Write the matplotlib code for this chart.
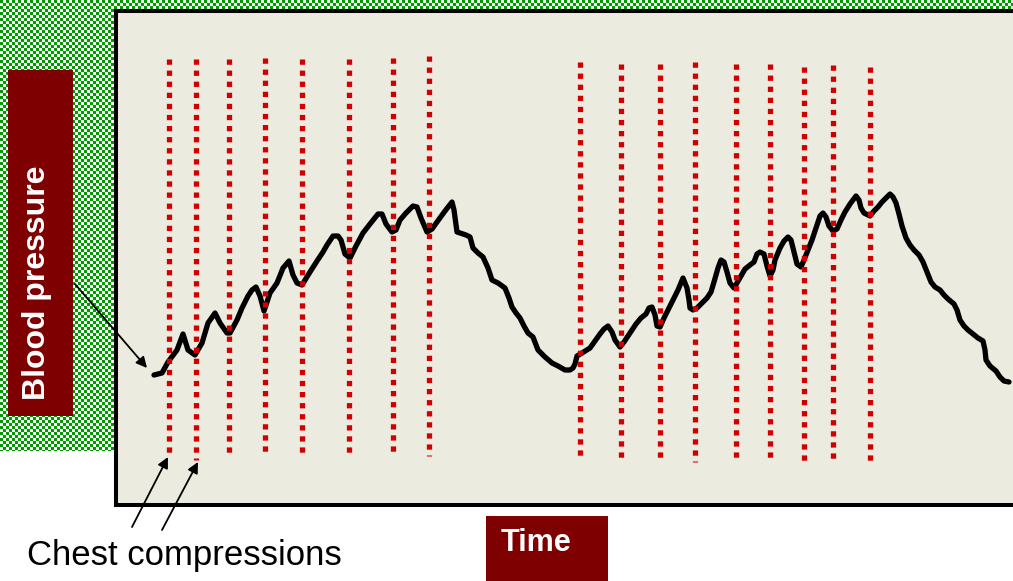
import numpy as np
import matplotlib
matplotlib.use("Agg")
import matplotlib.pyplot as plt
from matplotlib.patches import Rectangle

# ---------------- data (pixel-like units) ----------------
time = [154, 162, 168, 177, 183, 188, 195, 202, 208, 215, 220, 227, 230, 237, 242,
        248, 252, 256, 260, 264, 270, 277, 283, 289, 293, 297, 302, 310, 317, 323,
        327, 333, 338, 341, 345, 350, 356, 363, 370, 378, 382, 386, 392, 396, 400,
        406, 413, 417, 421, 427, 432, 437, 445, 452, 454, 457, 466, 470, 473, 478,
        483, 488, 492, 498, 505, 509, 512, 516, 520, 524, 528, 533, 538, 545, 552,
        558, 565, 570, 573, 575, 577, 582, 590, 595, 600, 604, 608, 612, 615, 620,
        624, 630, 636, 641, 646, 649, 652, 655, 657, 660, 664, 667, 673, 678, 683,
        687, 689, 690, 693, 697, 702, 707, 711, 714, 718, 721, 724, 727, 730, 734,
        737, 741, 745, 750, 754, 757, 760, 764, 767, 770, 773, 775, 780, 784, 788,
        791, 794, 797, 801, 804, 808, 812, 816, 820, 823, 826, 829, 833, 837, 841,
        845, 850, 856, 859, 861, 864, 870, 874, 878, 882, 887, 890, 893, 896, 899,
        902, 906, 910, 914, 919, 923, 927, 931, 935, 940, 944, 948, 954, 957, 960,
        964, 968, 973, 978, 983, 985, 986, 990, 996, 1000, 1004, 1009]
pressure = [375, 373, 362, 350, 334, 350, 355, 343, 323, 313, 323, 333, 333, 320, 308,
            296, 290, 287, 296, 311, 293, 283, 268, 261, 275, 283, 285, 272, 261, 252,
            245, 236, 236, 240, 254, 258, 246, 233, 224, 214, 214, 224, 232, 230, 220,
            213, 206, 207, 218, 232, 229, 222, 211, 202, 210, 232, 235, 237, 248, 253,
            257, 268, 280, 283, 288, 298, 307, 313, 318, 326, 333, 337, 350, 357, 363,
            366, 370, 370, 368, 364, 356, 353, 348, 341, 334, 329, 326, 332, 340, 347,
            342, 333, 324, 318, 314, 308, 307, 315, 326, 327, 318, 312, 300, 290, 278,
            288, 300, 308, 310, 308, 303, 298, 292, 282, 268, 260, 262, 272, 283, 288,
            283, 276, 269, 265, 262, 254, 252, 254, 266, 276, 270, 260, 248, 241, 237,
            240, 252, 264, 267, 260, 250, 240, 228, 216, 213, 217, 226, 231, 229, 220,
            212, 204, 196, 200, 208, 213, 216, 211, 207, 202, 197, 194, 197, 203, 214,
            226, 238, 245, 250, 255, 262, 272, 282, 287, 290, 295, 299, 304, 310, 320,
            326, 330, 334, 338, 341, 350, 360, 366, 371, 377, 381, 382]

# chest compressions (red dotted markers): position, top, bottom
compress_x = [169, 196, 229, 265, 302, 349, 393, 429,
              580, 621, 660, 695, 736, 770, 804, 833, 870]
compress_top = [59, 59, 59, 58, 59, 59, 58, 56,
                62, 64, 64, 62, 64, 64, 67, 65, 67]
compress_bottom = [458, 460, 456, 456, 456, 456, 456, 456,
                   460, 462, 462, 462, 462, 462, 465, 464, 465]

y_label = "Blood pressure"
x_label = "Time"
note_label = "Chest compressions"

# ---------------- figure ----------------
W, H = 1013, 581
fig = plt.figure(figsize=(W / 100, H / 100), dpi=100)
ax = fig.add_axes([0, 0, 1, 1])
ax.set_xlim(0, W)
ax.set_ylim(H, 0)
ax.axis("off")

# green checkerboard background (top strip and left strip)
green = np.array([0.0, 0.6, 0.0, 1.0])
img = np.zeros((H, W, 4))
yy, xx = np.mgrid[0:H, 0:W]
checker = ((yy // 3 + xx // 3) % 2 == 0)
region = (yy < 12) | ((xx < 116) & (yy < 451))
img[region] = [1, 1, 1, 1]
img[region & checker] = green
ax.imshow(img, extent=(0, W, H, 0), interpolation="nearest", zorder=0)

# panel
ax.add_patch(Rectangle((115.7, 11), 1020, 494, facecolor="#ECEBE0",
                       edgecolor="black", lw=2.9, zorder=1))

# curve
ax.plot(time, pressure, color="black", lw=3.8, solid_joinstyle="round",
        solid_capstyle="round", zorder=3)

# compressions
for x, t, b in zip(compress_x, compress_top, compress_bottom):
    ax.plot([x, x], [t, b], color="#D00000", lw=3.8,
            linestyle=(0, (1.0, 1.1)), dash_capstyle="butt", zorder=4)

# label boxes
ax.add_patch(Rectangle((8, 70), 65, 346, facecolor="#7F0000", edgecolor="none", zorder=2))
ax.text(37, 283, y_label, rotation=90, color="white", fontsize=23,
        fontweight="bold", family="Liberation Sans", ha="center", va="center", zorder=5)
ax.add_patch(Rectangle((486, 516), 122, 70, facecolor="#7F0000", edgecolor="none", zorder=2))
ax.text(536, 543, x_label, color="white", fontsize=22, fontweight="bold",
        family="Liberation Sans", ha="center", va="center", zorder=5)

ax.text(27, 565, note_label, color="black", fontsize=25, family="Liberation Sans",
        ha="left", va="baseline", zorder=5)

# arrows
arrow_kw = dict(arrowstyle="-|>", color="black", lw=1.3, mutation_scale=16,
                shrinkA=0, shrinkB=0)
ax.annotate("", xy=(147, 368), xytext=(75, 284), arrowprops=arrow_kw, zorder=6)
ax.annotate("", xy=(168, 457), xytext=(132, 527), arrowprops=arrow_kw, zorder=6)
ax.annotate("", xy=(198, 462), xytext=(162, 530), arrowprops=arrow_kw, zorder=6)

fig.savefig("out.png", dpi=100)
